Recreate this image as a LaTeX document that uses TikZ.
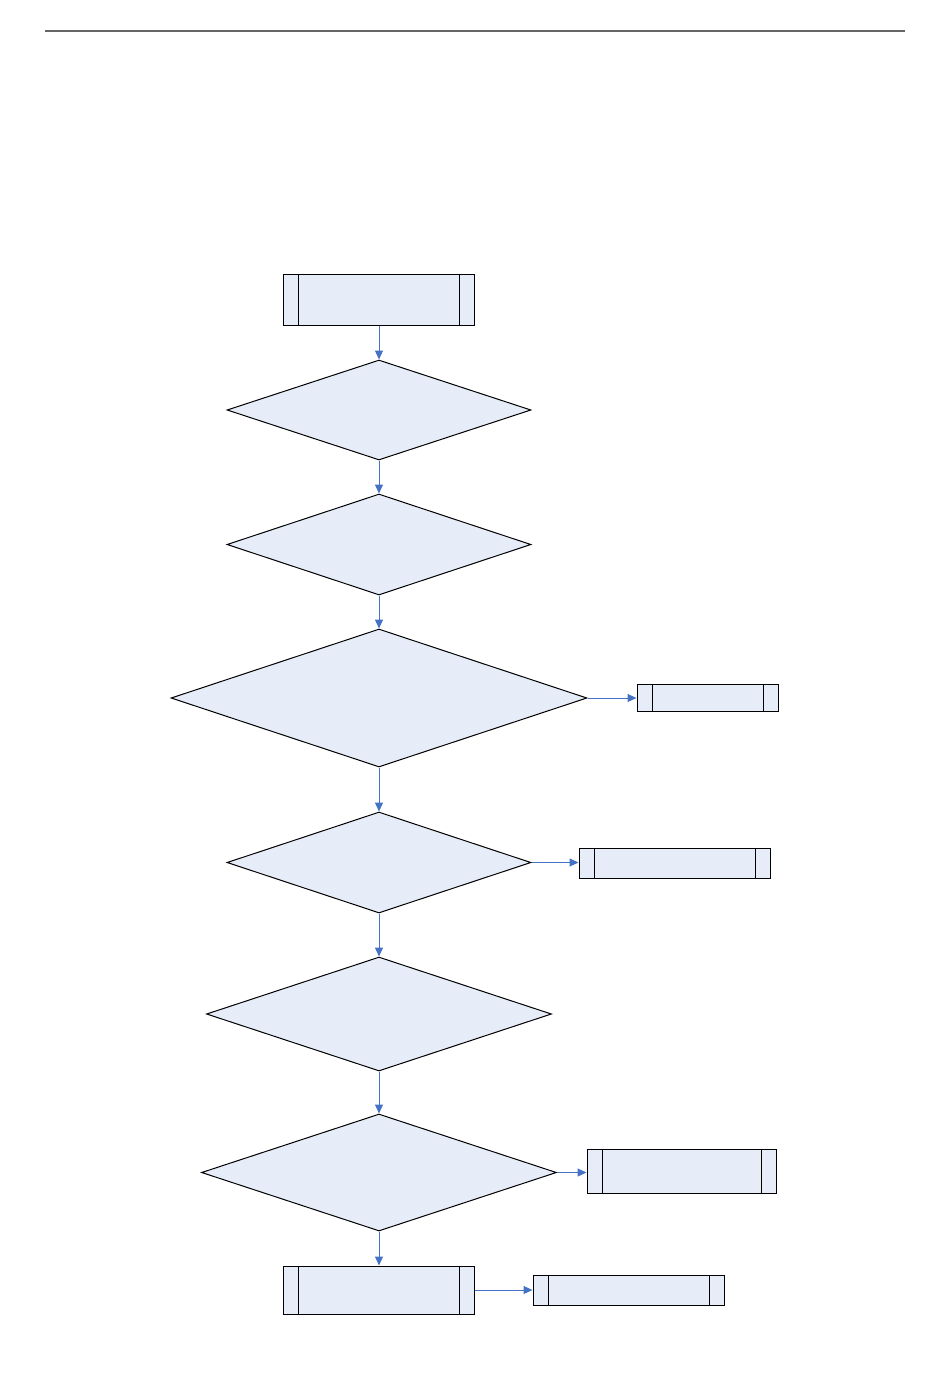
\documentclass[tikz,border=0pt]{standalone}
\usetikzlibrary{shapes.geometric,arrows.meta}
\definecolor{boxfill}{HTML}{E6EDF8}
\definecolor{arrowblue}{HTML}{4472C4}
\tikzset{
  predef/.style={draw=black, line width=1pt, fill=boxfill, rectangle, inner sep=0pt,
    minimum width=#1, path picture={
      \draw[line width=1pt] ([xshift=15pt]path picture bounding box.north west) -- ([xshift=15pt]path picture bounding box.south west);
      \draw[line width=1pt] ([xshift=-15pt]path picture bounding box.north east) -- ([xshift=-15pt]path picture bounding box.south east);
    }},
  decision/.style={draw=black, line width=1pt, fill=boxfill, diamond, inner sep=0pt},
  flow/.style={draw=arrowblue, line width=1pt, -{Triangle[length=9pt,width=8pt]}},
}
\begin{document}
\begin{tikzpicture}[x=1pt,y=-1pt]
\useasboundingbox (0,0) rectangle (950,1387);
\draw[line width=1.5pt, color=black!60] (45,31) -- (905,31);

\node[predef=191pt, minimum height=51pt] (b1) at (379,299.5) {};
\node[decision, minimum width=304pt, minimum height=100pt] (d1) at (379,410) {};
\node[decision, minimum width=304pt, minimum height=101pt] (d2) at (379,544.5) {};
\node[decision, minimum width=416pt, minimum height=138pt] (d3) at (379,698) {};
\node[predef=141pt, minimum height=27pt] (r3) at (707.5,698) {};
\node[decision, minimum width=304pt, minimum height=101pt] (d4) at (379,862.5) {};
\node[predef=191pt, minimum height=30pt] (r4) at (674.5,863) {};
\node[decision, minimum width=345pt, minimum height=114pt] (d5) at (379,1014) {};
\node[decision, minimum width=355pt, minimum height=117pt] (d6) at (379,1172.5) {};
\node[predef=189pt, minimum height=44pt] (r6) at (681.5,1171) {};
\node[predef=191pt, minimum height=48pt] (b2) at (379,1290) {};
\node[predef=191pt, minimum height=30pt] (r7) at (628.5,1290) {};

\draw[flow] (b1.south) -- (d1.north);
\draw[flow] (d1.south) -- (d2.north);
\draw[flow] (d2.south) -- (d3.north);
\draw[flow] (d3.east) -- (r3.west);
\draw[flow] (d3.south) -- (d4.north);
\draw[flow] (d4.east) -- (r4.west |- d4.east);
\draw[flow] (d4.south) -- (d5.north);
\draw[flow] (d5.south) -- (d6.north);
\draw[flow] (d6.east) -- (r6.west |- d6.east);
\draw[flow] (d6.south) -- (b2.north);
\draw[flow] (b2.east) -- (r7.west);
\end{tikzpicture}
\end{document}
